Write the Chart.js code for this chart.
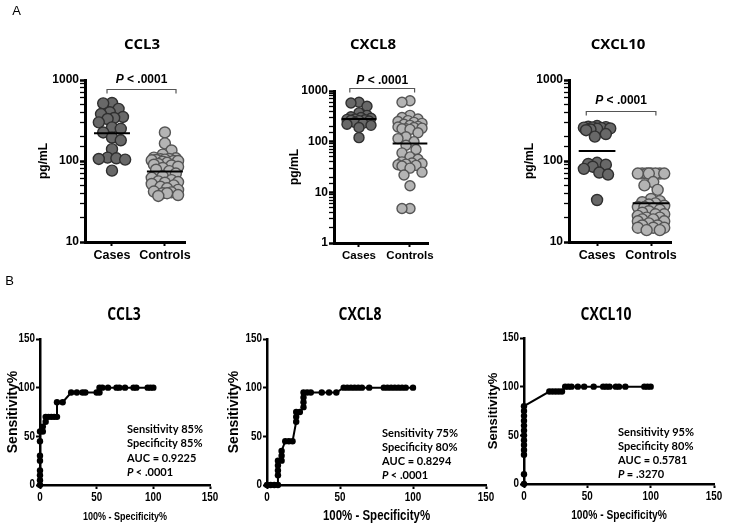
<!DOCTYPE html>
<html><head><meta charset="utf-8">
<script src="https://cdn.jsdelivr.net/npm/chart.js@4.4.1/dist/chart.umd.min.js"></script>
<style>
html,body{margin:0;padding:0;background:#fff;}
body{width:729px;height:525px;position:relative;overflow:hidden;}
canvas{position:absolute;}
</style></head><body>
<canvas id="a1" style="left:0px;top:0px;width:243px;height:270px" width="243" height="270"></canvas>
<canvas id="a2" style="left:243px;top:0px;width:243px;height:270px" width="243" height="270"></canvas>
<canvas id="a3" style="left:486px;top:0px;width:243px;height:270px" width="243" height="270"></canvas>
<canvas id="b1" style="left:0px;top:270px;width:222px;height:255px" width="222" height="255"></canvas>
<canvas id="b2" style="left:220px;top:270px;width:280px;height:255px" width="280" height="255"></canvas>
<canvas id="b3" style="left:480px;top:270px;width:249px;height:255px" width="249" height="255"></canvas>
<script>
// ---------- DATA ----------
const groups = ['Cases', 'Controls'];
const logTickLabels = [1, 10, 100, 1000];
const rocTicks = [0, 50, 100, 150];

const ccl3Cases = [520, 515, 440, 400, 380, 350, 340, 330, 300, 260, 250, 225, 195, 180, 140, 110, 108, 106, 104, 76];
const ccl3Controls = [225, 165, 135, 120, 110, 108, 106, 105, 104, 103, 102, 100, 100, 98, 95, 92, 90, 88, 85, 82,
  78, 75, 70, 65, 62, 58, 56, 55, 54, 52, 50, 48, 46, 44, 42, 41, 40, 40, 38, 37];
const ccl3Lines = [220, 74];

const cxcl8Cases = [600, 580, 500, 370, 330, 310, 300, 290, 280, 275, 270, 265, 260, 255, 240, 230, 220, 210, 190, 120];
const cxcl8Controls = [640, 600, 330, 300, 280, 260, 250, 240, 230, 220, 210, 200, 195, 190, 185, 180, 180, 175, 150, 125,
  115, 100, 85, 70, 60, 50, 45, 40, 38, 37, 36, 35, 34, 33, 30, 25, 22, 13.5, 4.8, 4.8];
const cxcl8Lines = [280, 92];

const cxcl10Cases = [270, 265, 262, 260, 258, 255, 252, 250, 245, 240, 215, 200, 95, 92, 90, 85, 80, 72, 68, 33];
const cxcl10Controls = [70, 70, 70, 70, 70, 70, 70, 70, 55, 50, 44, 34, 32, 31, 30, 29, 28, 27, 27, 26,
  25, 24, 23, 22, 22, 21, 20, 20, 19, 19, 18, 18, 17, 16, 16, 15, 15, 15, 14, 14];
const cxcl10Lines = [133, 30];

const pTexts = ['< .0001', '< .0001', '< .0001'];

const ccl3RocX = [0, 0, 0, 0, 0, 0, 0, 0, 2.5, 2.5, 5, 5, 7.5, 10, 12.5, 15, 15, 20, 27.5, 32.5, 37.5, 40, 50, 52.5, 52.5, 55, 60, 67.5, 70, 75, 82.5, 85, 95, 97.5, 100];
const ccl3RocY = [0, 5, 10, 15, 25, 30, 45, 55, 55, 60, 65, 70, 70, 70, 70, 70, 85, 85, 95, 95, 95, 95, 95, 95, 100, 100, 100, 100, 100, 100, 100, 100, 100, 100, 100];

const cxcl8RocX = [0, 2.5, 5, 7.5, 7.5, 7.5, 7.5, 7.5, 10, 10, 10, 12.5, 15, 17.5, 20, 20, 20, 22.5, 25, 25, 25, 25, 27.5, 30, 37.5, 42.5, 47.5, 52.5, 55, 57.5, 60, 62.5, 65, 70, 80, 82.5, 85, 87.5, 90, 92.5, 95, 100];
const cxcl8RocY = [0, 0, 0, 0, 10, 15, 20, 25, 25, 30, 35, 45, 45, 45, 65, 70, 75, 75, 80, 85, 90, 95, 95, 95, 95, 95, 95, 100, 100, 100, 100, 100, 100, 100, 100, 100, 100, 100, 100, 100, 100, 100];

const cxcl10RocX = [0, 0, 0, 0, 0, 0, 0, 0, 0, 0, 0, 0, 0, 20, 22.5, 25, 27.5, 30, 32.5, 35, 37.5, 42.5, 47.5, 55, 62.5, 65, 67.5, 72.5, 75, 80, 95, 97.5, 100];
const cxcl10RocY = [0, 10, 30, 35, 40, 45, 50, 55, 60, 65, 70, 75, 80, 95, 95, 95, 95, 95, 100, 100, 100, 100, 100, 100, 100, 100, 100, 100, 100, 100, 100, 100, 100];

const ccl3Stats = ['Sensitivity 85%', 'Specificity 85%', 'AUC = 0.9225', '< .0001'];
const cxcl8Stats = ['Sensitivity 75%', 'Specificity 80%', 'AUC = 0.8294', '< .0001'];
const cxcl10Stats = ['Sensitivity 95%', 'Specificity 80%', 'AUC = 0.5781', '= .3270'];

// ---------- HELPERS ----------
const SANS = "'Liberation Sans', Arial, sans-serif";
const TITLEF = "'Open Sans', sans-serif";
const NOTEF = "Lato, 'Open Sans', sans-serif";

function swarm(values, pxPerDecade, pxPerUnit, diam) {
  const order = values.map((v, i) => i).sort((a, b) => values[b] - values[a]);
  const placed = [], off = new Array(values.length);
  const step = diam * 0.2, maxOff = diam * 1.25, minD = diam * 0.8;
  const cands = [0];
  for (let k = 1; k * step <= maxOff + 1e-9; k++) cands.push(k * step, -k * step);
  order.forEach((i, n) => {
    const y = Math.log10(values[i]) * pxPerDecade;
    let best = 0, bestScore = -1;
    for (const c0 of cands) {
      const cand = n % 2 ? -c0 : c0;
      let md = Infinity;
      for (const p of placed) md = Math.min(md, Math.hypot(p.x - cand, p.y - y));
      if (md >= minD) { best = cand; break; }
      if (md > bestScore + 1e-6) { bestScore = md; best = cand; }
    }
    placed.push({x: best, y});
    off[i] = best / pxPerUnit;
  });
  return off;
}

function drawP(ctx, rest, x, y, size) {
  const fi = 'italic bold ' + size + 'px ' + SANS;
  const fr = 'bold ' + size + 'px ' + SANS;
  ctx.font = fi; const wp = ctx.measureText('P ').width;
  ctx.font = fr; const wr = ctx.measureText(rest).width;
  const sx = x - (wp + wr) / 2;
  ctx.textAlign = 'left';
  ctx.font = fi; ctx.fillText('P ', sx, y);
  ctx.font = fr; ctx.fillText(rest, sx + wp, y);
}

function scaledText(ctx, text, x, y, font, sx, align) {
  ctx.save(); ctx.translate(x, y); ctx.scale(sx, 1);
  ctx.font = font; ctx.textAlign = align; ctx.fillText(text, 0, 0);
  ctx.restore();
}

const decor = {
  id: 'decor',
  afterDraw(chart, args, o) {
    const ctx = chart.ctx; ctx.save();
    ctx.fillStyle = '#000'; ctx.textBaseline = 'middle';
    const ca = chart.chartArea;
    if (o.letter) { ctx.font = '13px ' + SANS; ctx.textAlign = 'center'; ctx.fillText(o.letter.text, o.letter.x, o.letter.y); }
    if (o.title) scaledText(ctx, o.title.text, o.title.x, o.title.y, o.title.font, o.title.sx || 1, 'center');
    if (o.bracket) {
      const xs = chart.scales.x, ys = chart.scales.y, b = o.bracket;
      const x0 = xs.getPixelForValue(b.x0), x1 = xs.getPixelForValue(b.x1), y = Math.round(ys.getPixelForValue(b.y)) + 0.5;
      ctx.strokeStyle = '#555'; ctx.lineWidth = 1.2;
      ctx.beginPath(); ctx.moveTo(x0, y + 4); ctx.lineTo(x0, y); ctx.lineTo(x1, y); ctx.lineTo(x1, y + 4); ctx.stroke();
      drawP(ctx, b.text, (x0 + x1) / 2, y + b.dy, 12);
    }
    if (o.axisLabels) {
      const a = o.axisLabels, xs = chart.scales.x, ys = chart.scales.y;
      a.ticks.forEach(v => {
        scaledText(ctx, String(v), xs.getPixelForValue(v), ca.bottom + a.xdy, a.font, a.sx, 'center');
        scaledText(ctx, String(v), ca.left - a.ydx, ys.getPixelForValue(v), a.font, a.sx, 'right');
      });
      scaledText(ctx, a.xtitle, (ca.left + ca.right) / 2, a.xty, a.xtfont, a.sx, 'center');
    }
    if (o.notes) {
      const n = o.notes;
      n.lines.forEach((t, i) => {
        const y = n.y + i * n.gap;
        ctx.save(); ctx.translate(n.x, y); ctx.scale(n.sx, 1); ctx.textAlign = 'left';
        if (i === n.lines.length - 1) {
          ctx.font = 'italic ' + n.font; const wp = ctx.measureText('P ').width;
          ctx.fillText('P ', 0, 0); ctx.font = n.font; ctx.fillText(t, wp, 0);
        } else { ctx.font = n.font; ctx.fillText(t, 0, 0); }
        ctx.restore();
      });
    }
    ctx.restore();
  }
};

function isPow10(v) { const l = Math.log10(v); return Math.abs(l - Math.round(l)) < 1e-6; }

function scatterPanel(id, c) {
  const diam = c.r * 2;
  const offC = swarm(c.cases, c.ppd, c.ppu, diam);
  const offK = swarm(c.controls, c.ppd, c.ppu, diam);
  const hw = 0.34;
  const lineDs = (cx, v) => ({type: 'line', data: [{x: cx - hw, y: v}, {x: cx + hw, y: v}], borderColor: '#000', borderWidth: 2, pointRadius: 0, order: 0, clip: false});
  new Chart(document.getElementById(id), {
    type: 'scatter',
    data: {datasets: [
      lineDs(0, c.lines[0]), lineDs(1, c.lines[1]),
      {data: c.cases.map((v, i) => ({x: offC[i], y: v})), backgroundColor: '#686868', borderColor: '#2f2f2f', borderWidth: 1.4, pointRadius: c.r, order: 1, clip: false},
      {data: c.controls.map((v, i) => ({x: 1 + offK[i], y: v})), backgroundColor: '#b4b4b4', borderColor: '#555', borderWidth: 1.4, pointRadius: c.r, order: 1, clip: false}
    ]},
    options: {
      responsive: false, animation: false, events: [],
      layout: {autoPadding: false, padding: {left: 0, right: c.padR, top: c.padT, bottom: 0}},
      plugins: {legend: {display: false}, tooltip: {enabled: false}, decor: c.decor},
      scales: {
        x: {type: 'linear', min: c.xmin, max: c.xmax,
          afterBuildTicks: s => { s.ticks = [{value: 0}, {value: 1}]; },
          afterFit: s => { s.height = c.xh; },
          ticks: {callback: v => groups[v], color: '#000', font: {family: SANS, size: c.catSize, weight: 'bold'}, padding: 2, maxRotation: 0, autoSkip: false},
          grid: {drawOnChartArea: false, drawTicks: true, tickLength: 4, tickColor: '#000', tickWidth: 2},
          border: {display: true, color: '#000', width: 3}},
        y: {type: 'logarithmic', min: c.ymin, max: 1000,
          afterFit: s => { s.width = c.yw; },
          ticks: {autoSkip: false, callback: v => (isPow10(v) && logTickLabels.includes(Math.round(v))) ? String(Math.round(v)) : '', color: '#000', font: {family: SANS, size: 12, weight: 'bold'}, padding: 1},
          grid: {drawOnChartArea: false, drawTicks: true, tickLength: 5, tickColor: '#000', tickWidth: ctx => (ctx.tick && isPow10(ctx.tick.value)) ? 2.5 : 1.3},
          border: {display: true, color: '#000', width: 3},
          title: {display: true, text: 'pg/mL', color: '#000', font: {family: SANS, size: 12, weight: 'bold'}, padding: {top: c.ytp, bottom: 0}}}
      }
    },
    plugins: [decor]
  });
}

function rocPanel(id, c) {
  new Chart(document.getElementById(id), {
    type: 'scatter',
    data: {datasets: [{type: 'line', data: c.xs.map((x, i) => ({x, y: c.ys[i]})), borderColor: '#000', backgroundColor: '#000',
      borderWidth: 2, pointRadius: 3.2, pointBorderWidth: 0, tension: 0, clip: false}]},
    options: {
      responsive: false, animation: false, events: [],
      layout: {autoPadding: false, padding: {left: 0, right: c.padR, top: c.padT, bottom: 0}},
      plugins: {legend: {display: false}, tooltip: {enabled: false}, decor: c.decor},
      scales: {
        x: {type: 'linear', min: 0, max: 150,
          afterBuildTicks: s => { s.ticks = rocTicks.map(v => ({value: v})); },
          afterFit: s => { s.height = c.xh; },
          ticks: {display: false},
          grid: {drawOnChartArea: false, drawTicks: true, tickLength: 4, tickColor: '#000', tickWidth: 2},
          border: {display: true, color: '#000', width: 2.5}},
        y: {type: 'linear', min: 0, max: 150,
          afterBuildTicks: s => { s.ticks = rocTicks.map(v => ({value: v})); },
          afterFit: s => { s.width = c.yw; },
          ticks: {display: false},
          grid: {drawOnChartArea: false, drawTicks: true, tickLength: 4, tickColor: '#000', tickWidth: 2},
          border: {display: true, color: '#000', width: 2.5},
          title: {display: true, text: 'Sensitivity%', color: '#000', font: {family: SANS, size: c.ytSize, weight: 'bold'}, padding: {top: c.ytp, bottom: 0}}}
      }
    },
    plugins: [decor]
  });
}

// ---------- PANELS ----------
const AT = 'bold 15px ' + TITLEF;
scatterPanel('a1', {cases: ccl3Cases, controls: ccl3Controls, lines: ccl3Lines, r: 5.5, ppd: 81, ppu: 53,
  ymin: 10, xmin: -0.51, xmax: 1.38, padR: 58, padT: 80, yw: 85, xh: 28, ytp: 36, catSize: 12.5,
  decor: {letter: {text: 'A', x: 16.5, y: 11.5}, title: {text: 'CCL3', x: 142, y: 45, font: AT},
    bracket: {x0: -0.094, x1: 1.21, y: 777, text: pTexts[0], dy: -10}}});
scatterPanel('a2', {cases: cxcl8Cases, controls: cxcl8Controls, lines: cxcl8Lines, r: 5, ppd: 51, ppu: 51,
  ymin: 1, xmin: -0.49, xmax: 1.353, padR: 58, padT: 91, yw: 91, xh: 27, ytp: 44, catSize: 11.5,
  decor: {title: {text: 'CXCL8', x: 130, y: 45, font: AT},
    bracket: {x0: -0.18, x1: 1.09, y: 1145, text: pTexts[1], dy: -8}}});
scatterPanel('a3', {cases: cxcl10Cases, controls: cxcl10Controls, lines: cxcl10Lines, r: 5.5, ppd: 81, ppu: 54,
  ymin: 10, xmin: -0.52, xmax: 1.37, padR: 58, padT: 80, yw: 83, xh: 28, ytp: 36, catSize: 12.5,
  decor: {title: {text: 'CXCL10', x: 132, y: 45, font: AT},
    bracket: {x0: -0.2, x1: 1.09, y: 414, text: pTexts[2], dy: -11}}});

const BT = 'bold 17px ' + TITLEF;
const NF = 'bold 12px ' + NOTEF;
const TF = 'bold 12px ' + SANS;
const SX = 0.82;
rocPanel('b1', {xs: ccl3RocX, ys: ccl3RocY, padR: 12, padT: 69, yw: 40, xh: 40, ytp: 5, ytSize: 14,
  decor: {letter: {text: 'B', x: 9.5, y: 11.5}, title: {text: 'CCL3', x: 124, y: 45, font: BT, sx: SX},
    axisLabels: {ticks: rocTicks, font: TF, sx: SX, xdy: 12.5, ydx: 5, xtitle: '100% - Specificity%', xty: 247, xtfont: 'bold 11px ' + SANS},
    notes: {lines: ccl3Stats, x: 127, y: 159, gap: 14.4, font: NF, sx: 0.92}}});
rocPanel('b2', {xs: cxcl8RocX, ys: cxcl8RocY, padR: 14, padT: 69, yw: 47, xh: 40, ytp: 6, ytSize: 14,
  decor: {title: {text: 'CXCL8', x: 140, y: 45, font: BT, sx: SX},
    axisLabels: {ticks: rocTicks, font: TF, sx: SX, xdy: 12.5, ydx: 5, xtitle: '100% - Specificity%', xty: 246, xtfont: 'bold 14px ' + SANS},
    notes: {lines: cxcl8Stats, x: 162, y: 163, gap: 14, font: NF, sx: 0.92}}});
rocPanel('b3', {xs: cxcl10RocX, ys: cxcl10RocY, padR: 15, padT: 68, yw: 44, xh: 41, ytp: 6, ytSize: 13,
  decor: {title: {text: 'CXCL10', x: 126, y: 45, font: BT, sx: SX},
    axisLabels: {ticks: rocTicks, font: TF, sx: SX, xdy: 12.5, ydx: 5, xtitle: '100% - Specificity%', xty: 246, xtfont: 'bold 12.5px ' + SANS},
    notes: {lines: cxcl10Stats, x: 138, y: 162, gap: 14, font: NF, sx: 0.92}}});
</script>
</body></html>
